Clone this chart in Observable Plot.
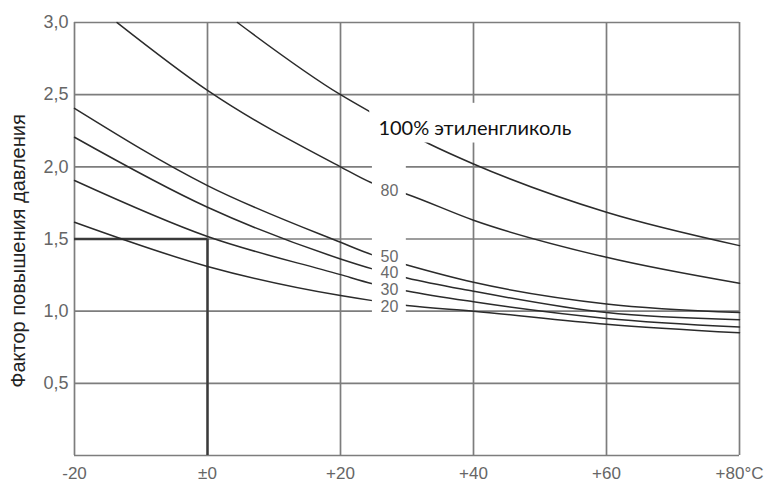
<!DOCTYPE html>
<html><head><meta charset="utf-8">
<script src="https://cdn.jsdelivr.net/npm/d3@7"></script>
<script src="https://cdn.jsdelivr.net/npm/@observablehq/plot@0.6"></script>
<style>
body{margin:0;background:#fff;}
#chart svg{display:block}
</style></head><body><div id="chart"></div>
<script>
// Axis ticks and labels
const xTicks = [-20, 0, 20, 40, 60, 80];
const xTickLabels = ["-20", "±0", "+20", "+40", "+60", "+80°C"];
const yGrid = [0, 0.5, 1, 1.5, 2, 2.5, 3];
const yTicks = [0.5, 1, 1.5, 2, 2.5, 3];
const yTickLabels = ["0,5", "1,0", "1,5", "2,0", "2,5", "3,0"];
const yTitle = "Фактор повышения давления";

// Curves (temperature °C -> pressure factor)
const temp100 = [4.5, 20, 24.5, 33.3, 40, 60, 80];
const fact100 = [3.0, 2.5, 2.38, 2.16, 2.02, 1.685, 1.454];
const temp80 = [-13.6, 0, 20, 24.5, 30, 40, 60, 80];
const fact80 = [3.0, 2.53, 2.0, 1.893, 1.81, 1.63, 1.373, 1.193];
const tempLow = [-20, 0, 20, 24.8, 30, 40, 60, 80];
const fact50 = [2.405, 1.87, 1.477, 1.39, 1.32, 1.20, 1.05, 0.99];
const fact40 = [2.205, 1.72, 1.362, 1.293, 1.23, 1.138, 0.99, 0.94];
const fact30 = [1.905, 1.517, 1.253, 1.19, 1.14, 1.065, 0.95, 0.89];
const fact20 = [1.616, 1.31, 1.108, 1.073, 1.04, 1.0, 0.91, 0.85];

// Curve labels
const curveLabels = ["80", "50", "40", "30", "20"];
const curveLabelY = [1.835, 1.373, 1.262, 1.147, 1.027];
const mainLabel = "100% этиленгликоль";

// Example reading (−20…0 °C at factor 1.5)
const exampleT = 0;
const exampleF = 1.5;

const rows = [];
const add = (s, ts, vs) => ts.forEach((t, i) => rows.push({s, t, v: vs[i]}));
add("100", temp100, fact100);
add("80", temp80, fact80);
add("50", tempLow, fact50);
add("40", tempLow, fact40);
add("30", tempLow, fact30);
add("20", tempLow, fact20);

const SANS = "Liberation Sans, Arial, sans-serif";
const gridStyle = {stroke: "#7d7d7d", strokeOpacity: 1, strokeWidth: 1.7};

const plot = Plot.plot({
  width: 772, height: 484,
  marginLeft: 74, marginRight: 33, marginTop: 22, marginBottom: 29,
  x: {domain: [-20, 80]},
  y: {domain: [0, 3]},
  style: {fontFamily: SANS, background: "white", overflow: "visible"},
  marks: [
    Plot.gridX(xTicks, gridStyle),
    Plot.gridY(yGrid, gridStyle),
    Plot.ruleY([exampleF], {x1: -20, x2: exampleT, stroke: "#3a3a3a", strokeWidth: 2.4}),
    Plot.ruleX([exampleT], {y1: 0, y2: exampleF, stroke: "#3a3a3a", strokeWidth: 2.4}),
    Plot.line(rows, {x: "t", y: "v", z: "s", curve: "monotone-x", stroke: "#2b2b2b", strokeWidth: 1.5}),
    Plot.rect([0], {x1: 24.8, x2: 29.9, y1: 0.975, y2: 2.035, fill: "white"}),
    Plot.rect([0], {x1: 24.4, x2: 56, y1: 2.165, y2: 2.44, fill: "white"}),
    Plot.text(curveLabels, {x: 27.35, y: curveLabelY, text: d => d, fontSize: 16, fontFamily: SANS, fill: "#6a6a6a"}),
    Plot.text([mainLabel], {x: 25.7, y: 2.264, text: d => d, textAnchor: "start", fontSize: 20, fontFamily: "Lato", fill: "#111"}),
    Plot.axisX(xTicks, {tickSize: 0, tickPadding: 11, tickFormat: d => xTickLabels[xTicks.indexOf(d)], fontSize: 17, fontFamily: SANS, fill: "#666", label: null}),
    Plot.axisY(yTicks, {tickSize: 0, tickPadding: 6, tickFormat: d => yTickLabels[yTicks.indexOf(d)], fontSize: 18, fontFamily: SANS, fill: "#666", label: null}),
    Plot.text([yTitle], {frameAnchor: "left", textAnchor: "middle", rotate: -90, dx: -56, dy: 12, text: d => d, fontSize: 20, fontFamily: SANS, fill: "#222"})
  ]
});
document.getElementById("chart").appendChild(plot);
</script></body></html>
